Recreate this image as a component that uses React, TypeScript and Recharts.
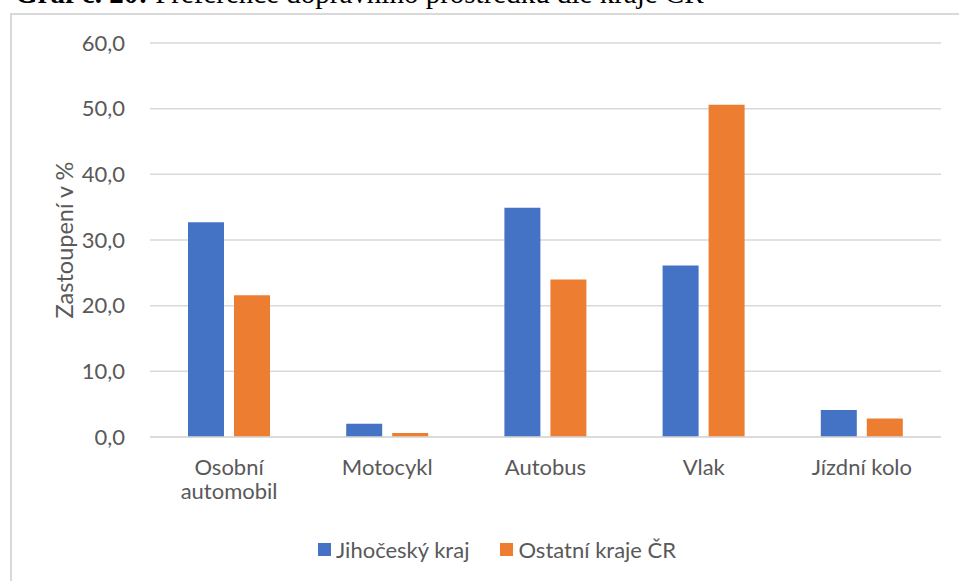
import React from 'react';
import { BarChart, Bar, XAxis, YAxis, CartesianGrid } from 'recharts';

const categories = ['Osobní automobil', 'Motocykl', 'Autobus', 'Vlak', 'Jízdní kolo'];
const jihocesky = [32.7, 2.0, 34.9, 26.1, 4.1];
const ostatni = [21.6, 0.6, 24.0, 50.6, 2.8];
const yTicks = [0, 10, 20, 30, 40, 50, 60];
const seriesNames = ['Jihočeský kraj', 'Ostatní kraje ČR'];
const colors = ['#4472C4', '#ED7D31'];

const data = categories.map((c, i) => ({ name: c, a: jihocesky[i], b: ostatni[i] }));

const FONT = 'Lato, "Open Sans", sans-serif';
const TEXT = '#595959';

// category labels, "Osobní automobil" is wrapped on two lines like in Excel
const CatTick = ({ x, y, payload }: any) => {
  const words: string[] = payload.value === 'Osobní automobil' ? ['Osobní', 'automobil'] : [payload.value];
  return (
    <text x={x} y={y} textAnchor="middle" fill={TEXT} fontSize={22} fontFamily={FONT}>
      {words.map((w, i) => (
        <tspan key={i} x={x} dy={i === 0 ? 30 : 24}>{w}</tspan>
      ))}
    </text>
  );
};

export default function App() {
  return (
    <div style={{ position: 'absolute', left: 0, top: 0, width: 959, height: 581, overflow: 'hidden', background: '#fff' }}>
      <div style={{ position: 'absolute', left: 15, top: -21, fontFamily: '"Liberation Serif", "Times New Roman", serif', fontSize: 29, lineHeight: 1, color: '#000', whiteSpace: 'nowrap' }}>
        <b>Graf č. 20:</b> Preference dopravního prostředku dle kraje ČR
      </div>
      <div style={{ position: 'absolute', left: 10, top: 13, width: 1000, height: 600, border: '2px solid #d9d9d9', boxSizing: 'border-box' }} />
      <div style={{ position: 'absolute', left: 0, top: 0 }}>
        <BarChart
          width={959}
          height={581}
          data={data}
          margin={{ top: 43, right: 18, bottom: 143, left: 0 }}
          barSize={36}
          barGap={10}
        >
          <CartesianGrid vertical={false} stroke="#d9d9d9" strokeWidth={1.5} />
          <XAxis
            dataKey="name"
            axisLine={{ stroke: '#d9d9d9', strokeWidth: 1.5 }}
            tickLine={false}
            tick={<CatTick />}
            interval={0}
            height={1}
          />
          <YAxis
            width={150}
            domain={[0, 60]}
            ticks={yTicks}
            tickFormatter={(v: number) => v.toFixed(1).replace('.', ',')}
            axisLine={false}
            tickLine={false}
            tickSize={0}
            tickMargin={25}
            tick={{ fill: TEXT, fontSize: 22, fontFamily: FONT }}
            label={{ value: 'Zastoupení v %', angle: -90, position: 'center', dx: -10, fill: TEXT, fontSize: 23.5, fontFamily: FONT }}
          />
          <Bar dataKey="a" name={seriesNames[0]} fill={colors[0]} isAnimationActive={false} />
          <Bar dataKey="b" name={seriesNames[1]} fill={colors[1]} isAnimationActive={false} />
        </BarChart>
      </div>
      <div style={{ position: 'absolute', left: 318, top: 536, display: 'flex', alignItems: 'center', fontFamily: FONT, fontSize: 22, color: TEXT, whiteSpace: 'nowrap' }}>
        {seriesNames.map((n, i) => (
          <span key={n} style={{ display: 'flex', alignItems: 'center', marginRight: i === 0 ? 31 : 0 }}>
            <span style={{ width: 13, height: 13, background: colors[i], display: 'inline-block', marginRight: 5 }} />
            {n}
          </span>
        ))}
      </div>
    </div>
  );
}
